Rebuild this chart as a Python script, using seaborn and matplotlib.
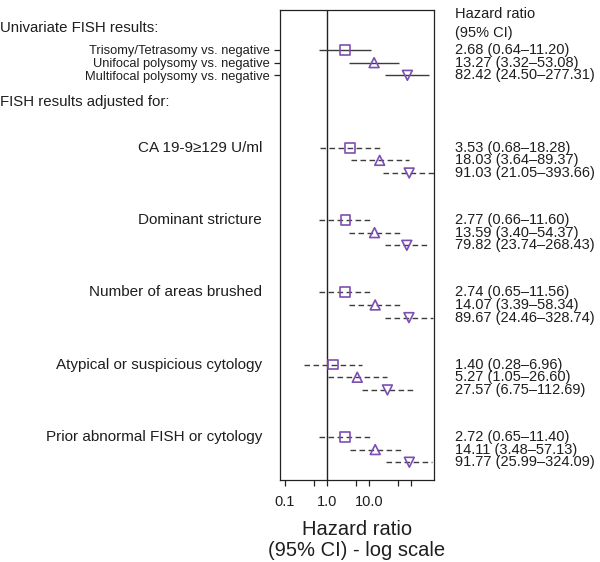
import matplotlib
matplotlib.use("Agg")
import matplotlib.pyplot as plt
import numpy as np
import pandas as pd
import seaborn as sns

# hazard ratios with 95% CI, three FISH comparisons per block
comparisons = [
    "Trisomy/Tetrasomy vs. negative",
    "Unifocal polysomy vs. negative",
    "Multifocal polysomy vs. negative",
]
blocks = [
    "Univariate",
    "CA 19-9\u2265129 U/ml",
    "Dominant stricture",
    "Number of areas brushed",
    "Atypical or suspicious cytology",
    "Prior abnormal FISH or cytology",
]
hr = [
    [2.68, 13.27, 82.42],
    [3.53, 18.03, 91.03],
    [2.77, 13.59, 79.82],
    [2.74, 14.07, 89.67],
    [1.40, 5.27, 27.57],
    [2.72, 14.11, 91.77],
]
ci_low = [
    [0.64, 3.32, 24.50],
    [0.68, 3.64, 21.05],
    [0.66, 3.40, 23.74],
    [0.65, 3.39, 24.46],
    [0.28, 1.05, 6.75],
    [0.65, 3.48, 25.99],
]
ci_high = [
    [11.20, 53.08, 277.31],
    [18.28, 89.37, 393.66],
    [11.60, 54.37, 268.43],
    [11.56, 58.34, 328.74],
    [6.96, 26.60, 112.69],
    [11.40, 57.13, 324.09],
]
x_ticks = [0.1, 0.5, 1, 5, 10, 50, 100]
x_tick_labels = ["0.1", "", "1.0", "", "10.0", "", ""]

# vertical layout (rows top to bottom)
first_adjusted = 7.7
block_step = 5.7

rows = []
for b, block in enumerate(blocks):
    start = 0 if b == 0 else first_adjusted + (b - 1) * block_step
    for c, comp in enumerate(comparisons):
        rows.append(dict(block=block, comp=comp, b=b, y=start + c,
                         hr=hr[b][c], lo=ci_low[b][c], hi=ci_high[b][c]))
df = pd.DataFrame(rows)

sns.set_theme(style="ticks")
plt.rcParams["font.family"] = ["Liberation Sans", "DejaVu Sans"]

fig = plt.figure(figsize=(6, 5.62), dpi=100)
ax = fig.add_axes([280 / 600, 1 - 480 / 562, 154 / 600, 470 / 562])

purple = "#7b4fb3"
line_col = "#3c3c3c"
text_col = "#1e1e1e"

uni = df[df.b == 0]
adj = df[df.b > 0]
ax.hlines(uni.y, uni.lo, uni.hi, color=line_col, lw=1.0, zorder=1)
ax.hlines(adj.y, adj.lo, adj.hi, color=line_col, lw=1.0,
          linestyles=(0, (4, 2.5)), zorder=1)

markers = {comparisons[0]: "s", comparisons[1]: "^", comparisons[2]: "v"}
for comp, mk in markers.items():
    sub = df[df.comp == comp]
    sns.scatterplot(data=sub, x="hr", y="y", marker=mk, s=50, ax=ax,
                    facecolor="none", edgecolor=purple, linewidth=1.2,
                    zorder=3, legend=False)

ax.axvline(1, color="#222222", lw=1.0, zorder=0)

ax.set_xscale("log")
ax.set_xlim(0.076, 355)
ax.set_ylim(33.9, -3.15)
ax.set_xticks(x_ticks)
ax.set_xticklabels(x_tick_labels, fontsize=10.5)
ax.minorticks_off()
ax.set_yticks(uni.y)
ax.set_yticklabels(comparisons, fontsize=9.3)
ax.tick_params(axis="both", length=4.5, width=0.9, color="#222222", pad=3,
               labelcolor=text_col)
ax.tick_params(axis="x", pad=6)
ax.set_xlabel("Hazard ratio\n(95% CI) - log scale", fontsize=14.5, labelpad=8,
              linespacing=1.15, color=text_col)
ax.set_ylabel("")
for sp in ax.spines.values():
    sp.set_visible(True)
    sp.set_color("#222222")
    sp.set_linewidth(0.9)

# estimates printed to the right of the panel
for _, r in df.iterrows():
    ax.text(1.136, r.y, f"{r.hr:.2f} ({r.lo:.2f}\u2013{r.hi:.2f})",
            transform=ax.get_yaxis_transform(), fontsize=10.5,
            va="center", ha="left", color=text_col)
ax.text(1.136, -3.4, "Hazard ratio\n(95% CI)", transform=ax.get_yaxis_transform(),
        fontsize=10.5, va="top", ha="left", color=text_col, linespacing=1.45)

# block labels on the left
for b in range(1, len(blocks)):
    y0 = df[df.b == b].y.min()
    ax.text(-0.117, y0, blocks[b], transform=ax.get_yaxis_transform(),
            fontsize=11, va="center", ha="right", color=text_col)

fig.text(0.0, 1 - 28 / 562, "Univariate FISH results:", fontsize=10.8,
         va="center", ha="left", color=text_col)
fig.text(0.0, 1 - 102 / 562, "FISH results adjusted for:", fontsize=10.8,
         va="center", ha="left", color=text_col)

fig.savefig("out.png", dpi=100)
